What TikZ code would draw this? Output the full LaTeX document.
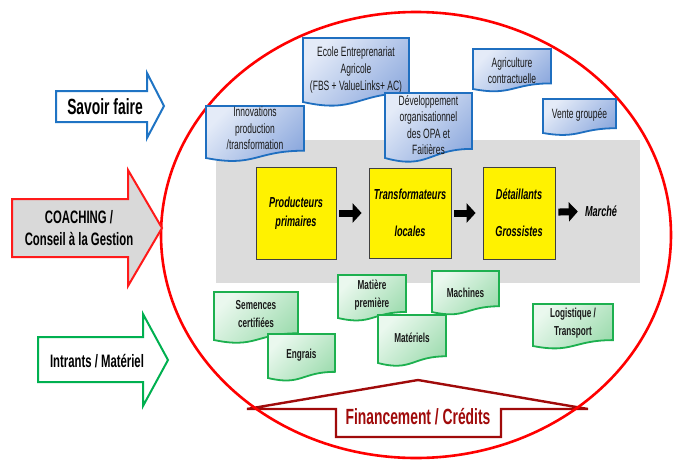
\documentclass[tikz,border=0pt]{standalone}
\usepackage{fontspec}
\setmainfont{Liberation Sans}[FakeStretch=0.63]
\usetikzlibrary{arrows.meta}
\definecolor{savoirblue}{HTML}{1F74C4}
\definecolor{coachred}{HTML}{FF1A1A}
\definecolor{coachgray}{HTML}{D9D9D9}
\definecolor{intrantgreen}{HTML}{00B050}
\definecolor{finred}{HTML}{A00A0A}
\definecolor{chaingray}{HTML}{DCDCDC}
\definecolor{docedgeblue}{HTML}{1F6FC0}
\definecolor{doclightblue}{HTML}{E4EBF8}
\definecolor{docdarkblue}{HTML}{8EAADE}
\definecolor{docedgegreen}{HTML}{1DB04F}
\definecolor{doclightgreen}{HTML}{EAF8EE}
\definecolor{docdarkgreen}{HTML}{9EDCAF}
\tikzset{%
    leftarrow/.style={line width=2pt, line join=miter},
    bigtext/.style={align=center, inner sep=0pt, font=\fontsize{18}{22}\selectfont\bfseries},
    actor/.style={draw=black!75, line width=0.8pt, fill=yellow, align=center,
        font=\fontsize{14.5}{18.5}\selectfont\bfseries\itshape},
    chainarrow/.style={line width=7pt, -{Triangle[length=9pt,width=19pt]},
        shorten <=3pt, shorten >=7pt},
    bluedoc/.style={draw=docedgeblue, line width=1.8pt, top color=docdarkblue,
        bottom color=doclightblue, shading angle=-135},
    greendoc/.style={draw=docedgegreen, line width=1.8pt, top color=docdarkgreen,
        bottom color=doclightgreen, shading angle=-135},
    bluedoctxt/.style={align=center, inner sep=0pt, text=black!90,
        font=\fontsize{13.5}{16.6}\selectfont},
    greendoctxt/.style={align=center, inner sep=0pt, text=black!90,
        font=\fontsize{13}{18}\selectfont\bfseries}
}
% document shape: style, name, x1, y1, x2, y2 (left bottom), text y, text
\newcommand{\docu}[8]{%
    \pgfmathsetmacro{\dyr}{#4+0.86*(#6-#4)}%
    \pgfmathsetmacro{\dyc}{#4+1.185*(#6-#4)}%
    \pgfmathsetmacro{\dxm}{(#3+#5)/2}%
    \draw[#1] (#3,#4) -- (#5,#4) -- (#5,\dyr) .. controls (\dxm,\dyr) and (\dxm,\dyc) .. (#3,#6) -- cycle;
    \node[#1txt] (#2) at (\dxm,#7) {#8};%
}

\begin{document}
\begin{tikzpicture}[x=1pt, y=-1pt]
  \useasboundingbox (0,0) rectangle (677,461);

  % financement
  \draw[line width=2.4pt, draw=finred, fill=white, line join=miter]
    (336,437) -- (336,409) -- (247,409) -- (418,380) -- (588,409) -- (501,409) -- (501,437) -- cycle;
  \node[bigtext, text=finred, font=\fontsize{22}{24}\selectfont\bfseries] (finance) at (418,417) {Financement / Crédits};

  \draw[red, line width=2.6pt] (416,235) ellipse [x radius=255, y radius=223];

  % left arrows
  \draw[leftarrow, draw=savoirblue, fill=white]
    (56,91) -- (147,91) -- (147,73) -- (164,106) -- (147,138) -- (147,122) -- (56,122) -- cycle;
  \node[bigtext, font=\fontsize{22}{24}\selectfont\bfseries] (savoir) at (105,107) {Savoir faire};

  \draw[leftarrow, draw=coachred, fill=coachgray]
    (12,199) -- (128,199) -- (128,170) -- (162,228) -- (128,286) -- (128,257) -- (12,257) -- cycle;
  \node[bigtext] (coaching) at (79,228) {COACHING /\\Conseil à la Gestion};

  \draw[leftarrow, draw=intrantgreen, fill=white]
    (38,337) -- (143,337) -- (143,314) -- (168,360) -- (143,406) -- (143,382) -- (38,382) -- cycle;
  \node[bigtext] (intrants) at (97,361) {Intrants / Matériel};

  % value chain
  \fill[chaingray] (216,140) rectangle (640,283);
  \node[actor, minimum width=80pt, minimum height=92pt] (prod) at (296,213) {Producteurs\\primaires};
  \node[actor, minimum width=82pt, minimum height=90pt] (trans) at (410,213) {Transformateurs\\[18.5pt]locales};
  \node[actor, minimum width=72pt, minimum height=92pt] (detail) at (519,213) {Détaillants\\[18.5pt]Grossistes};
  \node[font=\fontsize{14.5}{18}\selectfont\bfseries\itshape, inner sep=0pt] (marche) at (601,211) {Marché};
  \draw[chainarrow] (prod) -- (trans);
  \draw[chainarrow] (trans) -- (detail);
  \draw[chainarrow] (detail) -- (marche);

  % savoir faire
  \docu{bluedoc}{innov}{206}{106}{304}{158}{128.5}{Innovations\\production\\/transformation}
  \docu{bluedoc}{ecole}{303}{38}{409}{102}{70}{Ecole Entreprenariat\\Agricole\\(FBS + ValueLinks+ AC)}
  \docu{bluedoc}{devorg}{385}{93}{472}{158}{125}{Développement\\organisationnel\\des OPA et\\Faitières}
  \docu{bluedoc}{agric}{473}{49}{551}{89}{70.5}{Agriculture\\contractuelle}
  \docu{bluedoc}{vente}{543}{99}{616}{133}{115}{Vente groupée}

  % intrants
  \docu{greendoc}{semences}{214}{292}{298}{340}{314}{Semences\\certifiées}
  \docu{greendoc}{engrais}{268}{334}{335}{378}{355}{Engrais}
  \docu{greendoc}{matiere}{338}{275}{406}{318}{295}{Matière\\première}
  \docu{greendoc}{machines}{432}{271}{499}{312}{293}{Machines}
  \docu{greendoc}{materiels}{378}{315}{446}{363}{338}{Matériels}
  \docu{greendoc}{logist}{533}{304}{613}{346}{323}{Logistique /\\Transport}
\end{tikzpicture}
\end{document}
